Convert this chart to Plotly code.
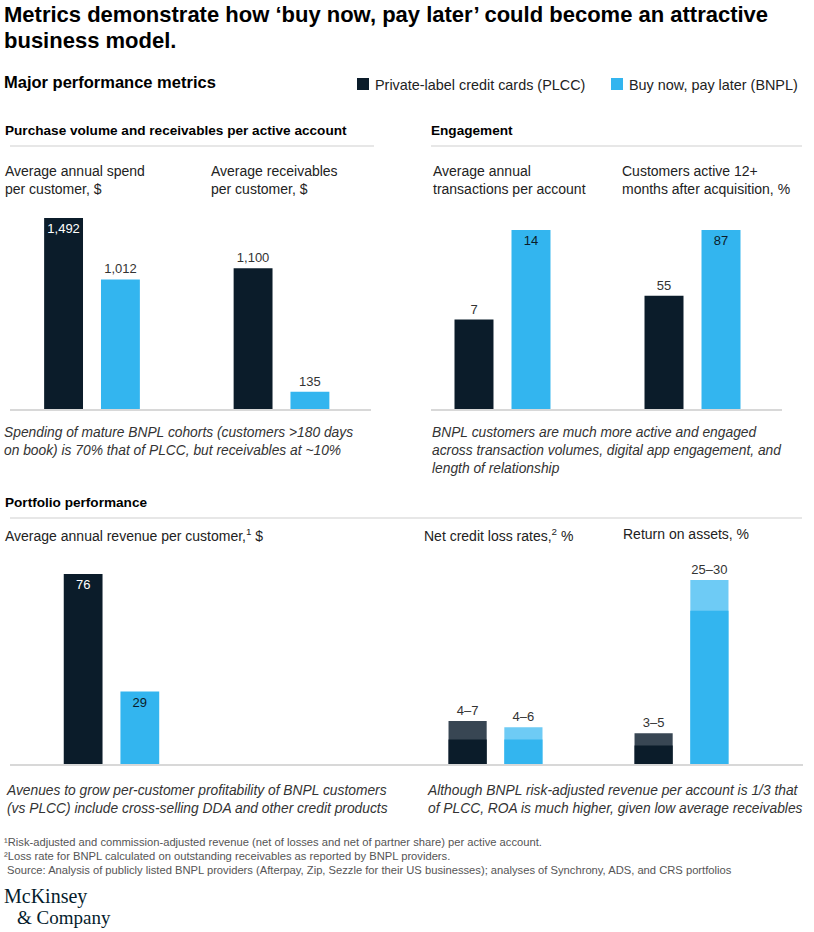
import plotly.graph_objects as go

W, H = 814, 932
SANS = "Liberation Sans, Arial, sans-serif"
SERIF = "Liberation Serif, Times New Roman, serif"

PLCC = "#0B1C2A"
PLCC_LT = "#384653"
BNPL = "#33B5EF"
BNPL_LT = "#6ECBF5"
TXT = "#222222"

# ---------------- data ----------------
spend_cats = ["Average annual spend", "Average receivables"]
spend_plcc = [1492, 1100]
spend_bnpl = [1012, 135]

txn_cats = ["Average annual transactions"]
txn_plcc = [7]
txn_bnpl = [14]

active_cats = ["Customers active 12+ months"]
active_plcc = [55]
active_bnpl = [87]

rev_cats = ["Average annual revenue"]
rev_plcc = [76]
rev_bnpl = [29]

risk_cats = ["Net credit loss rates", "Return on assets"]
risk_plcc_low = [4, 3]
risk_plcc_high = [7, 5]
risk_bnpl_low = [4, 25]
risk_bnpl_high = [6, 30]

# label placement (style)
spend_plcc_pos = ["inside", "outside"]
spend_bnpl_pos = ["outside", "outside"]

fig = go.Figure()


def add_bar(x, y, ax, color, group, text=None, textpos="none", inside_color=TXT):
    fig.add_trace(go.Bar(
        x=x, y=y, xaxis="x" + ax, yaxis="y" + ax,
        marker=dict(color=color, line=dict(width=0)),
        offsetgroup=group,
        text=text, textposition=textpos, insidetextanchor="end", textangle=0,
        insidetextfont=dict(color=inside_color, size=13, family=SANS),
        outsidetextfont=dict(color="#333333", size=13, family=SANS),
        cliponaxis=False, hoverinfo="skip", showlegend=False,
    ))


fmt = lambda v: f"{v:,}"

# Panel 1
add_bar(spend_cats, spend_plcc, "", PLCC, "p", [fmt(v) for v in spend_plcc], spend_plcc_pos, "white")
add_bar(spend_cats, spend_bnpl, "", BNPL, "b", [fmt(v) for v in spend_bnpl], spend_bnpl_pos, TXT)
# Engagement
add_bar(txn_cats, txn_plcc, "2", PLCC, "p", [fmt(v) for v in txn_plcc], "outside", "white")
add_bar(txn_cats, txn_bnpl, "2", BNPL, "b", [fmt(v) for v in txn_bnpl], "inside", PLCC)
add_bar(active_cats, active_plcc, "3", PLCC, "p", [fmt(v) for v in active_plcc], "outside", "white")
add_bar(active_cats, active_bnpl, "3", BNPL, "b", [fmt(v) for v in active_bnpl], "inside", PLCC)
# Revenue
add_bar(rev_cats, rev_plcc, "4", PLCC, "p", [fmt(v) for v in rev_plcc], "inside", "white")
add_bar(rev_cats, rev_bnpl, "4", BNPL, "b", [fmt(v) for v in rev_bnpl], "inside", PLCC)
# Risk ranges
add_bar(risk_cats, risk_plcc_high, "5", PLCC_LT, "p",
        [f"{a}\u2013{b}" for a, b in zip(risk_plcc_low, risk_plcc_high)], "outside")
add_bar(risk_cats, risk_plcc_low, "5", PLCC, "p")
add_bar(risk_cats, risk_bnpl_high, "5", BNPL_LT, "b",
        [f"{a}\u2013{b}" for a, b in zip(risk_bnpl_low, risk_bnpl_high)], "outside")
add_bar(risk_cats, risk_bnpl_low, "5", BNPL, "b")


def px_x(a, b):
    return [a / W, b / W]


def px_y(top, bottom):
    return [1 - bottom / H, 1 - top / H]


def xaxis(domain, rng, anchor):
    return dict(domain=domain, range=rng, type="category", anchor=anchor,
                showticklabels=False, showgrid=False, zeroline=False, ticks="",
                showline=True, linecolor="#D8D8D8", linewidth=1.5, fixedrange=True)


def yaxis(domain, rng, anchor):
    return dict(domain=domain, range=rng, anchor=anchor, visible=False,
                showgrid=False, zeroline=False, fixedrange=True)


top_dom = px_y(200, 409)
bot_dom = px_y(548, 764)

layout = dict(
    width=W, height=H, margin=dict(l=0, r=0, t=0, b=0),
    paper_bgcolor="white", plot_bgcolor="rgba(0,0,0,0)",
    barmode="group", bargap=0.4, bargroupgap=0.316,
    showlegend=False,
    uniformtext=dict(minsize=13, mode="show"),
    font=dict(family=SANS, color=TXT),
)
layout["xaxis"] = xaxis(px_x(10, 371), [-0.4327, 1.4723], "y")
layout["yaxis"] = yaxis(top_dom, [0, 1632.6], "x")
layout["xaxis2"] = xaxis(px_x(431, 597.5), [-0.3763, 0.5], "y2")
layout["yaxis2"] = yaxis(top_dom, [0, 16.346], "x2")
layout["xaxis3"] = xaxis(px_x(597.5, 782), [-0.5, 0.471], "y3")
layout["yaxis3"] = yaxis(top_dom, [0, 101.58], "x3")
layout["xaxis4"] = xaxis(px_x(10, 415), [-0.537, 1.606], "y4")
layout["yaxis4"] = yaxis(bot_dom, [0, 86.4], "x4")
layout["xaxis5"] = xaxis(px_x(415, 803), [-0.4328, 1.6532], "y5")
layout["yaxis5"] = yaxis(bot_dom, [0, 35.22], "x5")

fig.update_layout(**layout)

annotations = []


def txt(x, yc, text, size, color=TXT, weight="normal", style="normal", family=SANS, pad=1):
    top = yc - 0.65 * size
    annotations.append(dict(
        x=(x - 2) / W, y=1 - top / H, xref="paper", yref="paper",
        xanchor="left", yanchor="top", align="left", showarrow=False, borderpad=pad,
        text=text, font=dict(family=family, size=size, color=color, weight=weight, style=style),
    ))


txt(4, 14, "Metrics demonstrate how \u2018buy now, pay later\u2019 could become an attractive", 22, "#000000", "bold")
txt(4, 40, "business model.", 22, "#000000", "bold")
txt(4, 82, "Major performance metrics", 16.5, "#000000", "bold")
txt(375, 84, "Private-label credit cards (PLCC)", 14.4)
txt(629, 84, "Buy now, pay later (BNPL)", 14.4)

txt(5, 130, "Purchase volume and receivables per active account", 13.6, "#000000", "bold")
txt(431, 130, "Engagement", 13.6, "#000000", "bold")

txt(5, 170, "Average annual spend<br>per customer, $", 14)
txt(211, 170, "Average receivables<br>per customer, $", 14)
txt(433, 170, "Average annual<br>transactions per account", 14)
txt(622, 170, "Customers active 12+<br>months after acquisition, %", 14)

NOTE = 13.8
txt(4, 432, "Spending of mature BNPL cohorts (customers >180 days<br>on book) is 70% that of PLCC, but receivables at ~10%",
    NOTE, "#333333", style="italic")
txt(432, 432, "BNPL customers are much more active and engaged<br>across transaction volumes, digital app engagement, and<br>length of relationship",
    NOTE, "#333333", style="italic")

txt(5, 502, "Portfolio performance", 13.6, "#000000", "bold")
txt(5, 533, "Average annual revenue per customer,<sup>1</sup> $", 14)
txt(424, 533, "Net credit loss rates,<sup>2</sup> %", 14)
txt(623, 533, "Return on assets, %", 14)

txt(6, 790, "Avenues to grow per-customer profitability of BNPL customers<br>(vs PLCC) include cross-selling DDA and other credit products",
    NOTE, "#333333", style="italic")
txt(427, 790, "Although BNPL risk-adjusted revenue per account is 1/3 that<br>of PLCC, ROA is much higher, given low average receivables",
    NOTE, "#333333", style="italic")

FN = "#555555"
FS = 11.2
txt(4, 841, "\u00b9Risk-adjusted and commission-adjusted revenue (net of losses and net of partner share) per active account.", FS, FN)
txt(4, 855, "\u00b2Loss rate for BNPL calculated on outstanding receivables as reported by BNPL providers.", FS, FN)
txt(4, 869, " Source: Analysis of publicly listed BNPL providers (Afterpay, Zip, Sezzle for their US businesses); analyses of Synchrony, ADS, and CRS portfolios", FS, FN)

txt(5, 897, "McKinsey", 20, "#051C2C", family=SERIF, pad=0)
txt(18, 918, "&amp; Company", 19, "#051C2C", family=SERIF, pad=0)

shapes = []


def hline(x0, x1, y, color="#CFCFCF", width=1):
    shapes.append(dict(type="line", xref="paper", yref="paper", x0=x0 / W, x1=x1 / W,
                       y0=1 - y / H, y1=1 - y / H, line=dict(color=color, width=width)))


def square(x0, y0, size, color):
    shapes.append(dict(type="rect", xref="paper", yref="paper", x0=x0 / W, x1=(x0 + size) / W,
                       y0=1 - (y0 + size) / H, y1=1 - y0 / H, fillcolor=color, line=dict(width=0)))


hline(10, 374, 146)
hline(431, 802, 146)
hline(10, 802, 518)
square(357, 78, 12, PLCC)
square(611, 78, 12, BNPL)

fig.update_layout(annotations=annotations, shapes=shapes)
fig.write_html("out.html")
